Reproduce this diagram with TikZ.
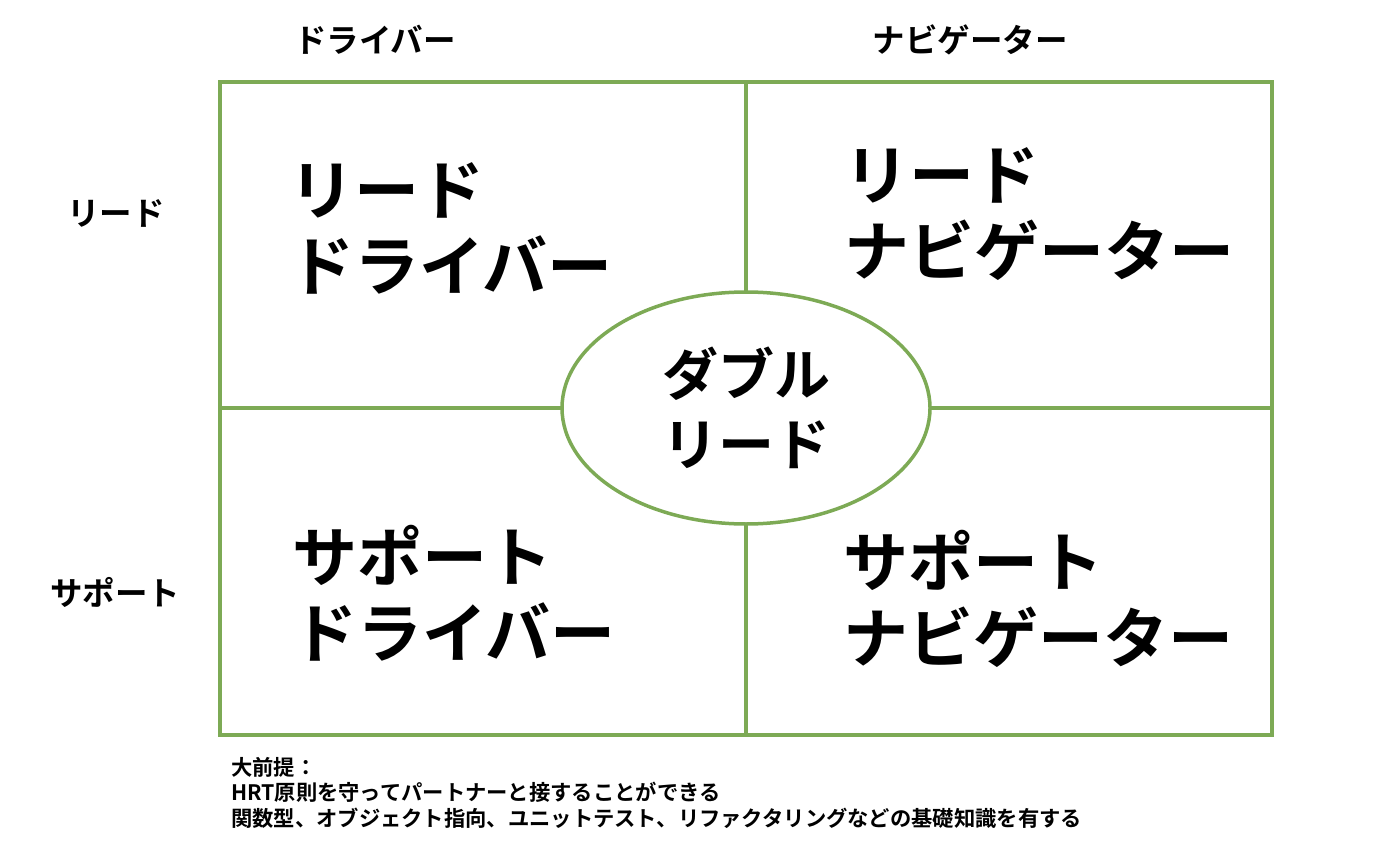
\documentclass[tikz,border=0pt]{standalone}
\usepackage{fontspec}
\setmainfont{Noto Sans CJK JP}[BoldFont={Noto Sans CJK JP Bold}]
\usetikzlibrary{shapes.geometric}
\definecolor{gridgreen}{RGB}{125,170,85}
\tikzset{frame/.style={draw=gridgreen, line width=3.5pt},
         role/.style={font=\bfseries\fontsize{65}{76}\selectfont, align=left, anchor=west, inner sep=0pt},
         axis/.style={font=\bfseries\fontsize{32.5}{38}\selectfont, inner sep=0pt},
         note/.style={font=\bfseries\fontsize{21.3}{25.5}\selectfont, align=left, anchor=north west, inner sep=0pt},
        }

\begin{document}
\begin{tikzpicture}[x=1pt,y=-1pt]
        \useasboundingbox (0,0) rectangle (1376,850);

        \coordinate (nw) at (220,82);
        \coordinate (se) at (1272,735);
        \draw[frame] (nw) rectangle (se);
        \draw[frame] (746,82) -- (746,735);
        \draw[frame] (220,408) -- (1272,408);

        \node[ellipse, frame, fill=white, minimum width=368, minimum height=232, inner sep=0pt,
              align=center, font=\bfseries\fontsize{56}{70}\selectfont](dbl) at (746,408) {ダブル\\リード};

        \node[axis](drv) at (375,40) {ドライバー};
        \node[axis](nav) at (970,40) {ナビゲーター};
        \node[axis](lead) at (116,213) {リード};
        \node[axis](sup) at (115,592) {サポート};

        \node[role](ld) at (289,228) {リード\\ドライバー};
        \node[role](ln) at (844,214) {リード\\ナビゲーター};
        \node[role](sd) at (292,593) {サポート\\ドライバー};
        \node[role](sn) at (843,599) {サポート\\ナビゲーター};

        \node[note](pre) at (231,757) {大前提：\\HRT原則を守ってパートナーと接することができる\\関数型、オブジェクト指向、ユニットテスト、リファクタリングなどの基礎知識を有する};
\end{tikzpicture}
\end{document}
